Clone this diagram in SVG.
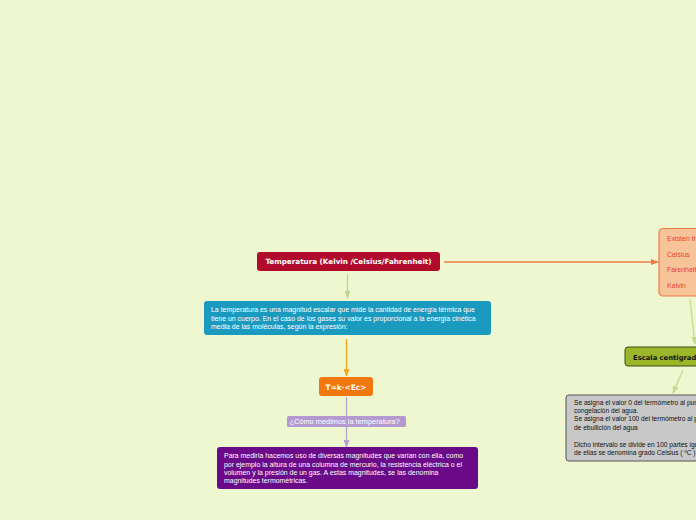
<svg xmlns="http://www.w3.org/2000/svg" width="696" height="520" viewBox="0 0 696 520">
<defs>
<style>
.t{font-family:"Liberation Sans",Arial,sans-serif;font-size:6.95px;fill:#fff}
.b{font-family:"DejaVu Sans",Verdana,sans-serif;font-weight:bold;font-size:7.2px;fill:#fff}
.k{fill:#111}
.c{fill:none;stroke-width:1.3}
</style>
<marker id="aGreen" viewBox="0 0 8 6" refX="7" refY="3" markerWidth="8" markerHeight="6" orient="auto" markerUnits="userSpaceOnUse"><path d="M0,0L8,3L0,6Z" fill="#bcd88a"/></marker>
<marker id="aOrange" viewBox="0 0 8 6" refX="7" refY="3" markerWidth="8" markerHeight="6" orient="auto" markerUnits="userSpaceOnUse"><path d="M0,0L8,3L0,6Z" fill="#f5a623"/></marker>
<marker id="aPurple" viewBox="0 0 8 6" refX="7" refY="3" markerWidth="8" markerHeight="6" orient="auto" markerUnits="userSpaceOnUse"><path d="M0,0L8,3L0,6Z" fill="#b8a0d0"/></marker>
<marker id="aRed" viewBox="0 0 8 6" refX="7" refY="3" markerWidth="8" markerHeight="6" orient="auto" markerUnits="userSpaceOnUse"><path d="M0,0L8,3L0,6Z" fill="#f07a48"/></marker>
<marker id="aLG" viewBox="0 0 8 6" refX="7" refY="3" markerWidth="8" markerHeight="6" orient="auto" markerUnits="userSpaceOnUse"><path d="M0,0L8,3L0,6Z" fill="#c4dc8c"/></marker>
</defs>
<rect width="696" height="520" fill="#eef7d0"/>
<g id="connectors">
<line class="c" x1="444" y1="262" x2="658" y2="262" stroke="#f07a48" marker-end="url(#aRed)"/>
<line class="c" x1="347.5" y1="274" x2="347.5" y2="298" stroke="#bcd88a" marker-end="url(#aGreen)"/>
<line class="c" x1="346.5" y1="339" x2="346.5" y2="376" stroke="#f5a623" marker-end="url(#aOrange)"/>
<line class="c" x1="346.5" y1="397" x2="346.5" y2="447" stroke="#b8a0d0" marker-end="url(#aPurple)"/>
<line class="c" x1="690" y1="299" x2="695" y2="344" stroke="#c4dc8c" marker-end="url(#aLG)"/>
<line class="c" x1="683" y1="370" x2="673" y2="393" stroke="#c4dc8c" marker-end="url(#aLG)"/>
</g>
<g id="temperatura">
<rect x="257" y="252" width="183" height="19" rx="3" fill="#b00b2c"/>
<text class="b" x="348.5" y="264" text-anchor="middle">Temperatura (Kelvin /Celsius/Fahrenheit)</text>
</g>
<g id="definicion">
<rect x="204" y="301" width="287" height="34" rx="3" fill="#1b9ac0"/>
<text class="t" x="211" y="312.3">La temperatura es una magnitud escalar que mide la cantidad de energía térmica que</text>
<text class="t" x="211" y="320.7">tiene un cuerpo. En el caso de los gases su valor es proporcional a la energía cinética</text>
<text class="t" x="211" y="329.1">media de las moléculas, según la expresión:</text>
</g>
<g id="formula">
<rect x="319" y="377" width="54" height="19" rx="3" fill="#f0780f"/>
<text class="b" x="346" y="389.5" text-anchor="middle" style="font-size:7.4px">T=k·&lt;Ec&gt;</text>
</g>
<g id="pregunta">
<rect x="287" y="416" width="119" height="11" rx="1.5" fill="#b49ad0"/>
<text class="t" x="289.5" y="424" style="font-size:7.4px">¿Cómo medimos la temperatura?</text>
</g>
<g id="medida">
<rect x="217" y="447" width="261" height="42" rx="3" fill="#6b0a88"/>
<text class="t" x="224" y="458.3">Para medirla hacemos uso de diversas magnitudes que varían con ella, como</text>
<text class="t" x="224" y="466.6">por ejemplo la altura de una columna de mercurio, la resistencia eléctrica o el</text>
<text class="t" x="224" y="474.9">volumen y la presión de un gas. A estas magnitudes, se las denomina</text>
<text class="t" x="224" y="483.2">magnitudes termométricas.</text>
</g>
<g id="escalas">
<rect x="659" y="228.5" width="60" height="67.5" rx="4" fill="#f7c49a" stroke="#f07a48" stroke-width="1.2"/>
<text class="t" x="667" y="241" style="fill:#e8402a">Existen tres escalas</text>
<text class="t" x="667" y="256.5" style="fill:#e8402a">Celsius</text>
<text class="t" x="667" y="272" style="fill:#e8402a">Farenheit</text>
<text class="t" x="667" y="288" style="fill:#e8402a">Kelvin</text>
</g>
<g id="centigrada">
<rect x="625" y="347" width="90" height="19" rx="3" fill="#9cb62a" stroke="#3e4a10" stroke-width="1"/>
<text class="b k" x="633" y="359.5" style="font-size:6.8px">Escala centigrada</text>
</g>
<g id="celsius">
<rect x="566" y="395" width="150" height="66" rx="3" fill="#c8c8c8" stroke="#555" stroke-width="1"/>
<text class="t k" x="574" y="405" style="font-size:6.6px">Se asigna el valor 0 del termómetro al punto de</text>
<text class="t k" x="574" y="413" style="font-size:6.6px">congelación del agua.</text>
<text class="t k" x="574" y="421.3" style="font-size:6.6px">Se asigna el valor 100 del termómetro al punto</text>
<text class="t k" x="574" y="429.5" style="font-size:6.6px">de ebullición del agua</text>
<text class="t k" x="574" y="447" style="font-size:6.6px">Dicho intervalo se divide en 100 partes iguales y cada una</text>
<text class="t k" x="574" y="455.3" style="font-size:6.6px">de ellas se denomina grado Celsius ( ºC )</text>
</g>
</svg>
